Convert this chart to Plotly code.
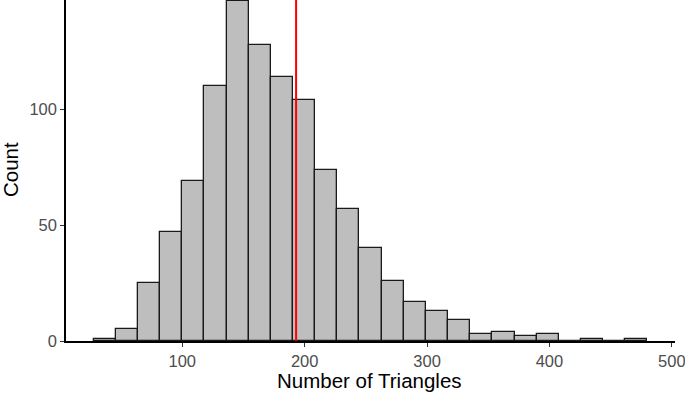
import plotly.graph_objects as go

# Histogram bins (start, width) and counts
bin_start = 27.6
bin_width = 18.1
counts = [1, 5, 25, 47, 69, 110, 147, 128, 114, 104, 74, 57, 40, 26, 17, 13, 9, 3, 4, 2, 3, 0, 1, 0, 1]
ref_value = 193
x_ticks = [100, 200, 300, 400, 500]
y_ticks = [0, 50, 100]

centers = [bin_start + bin_width * (i + 0.5) for i in range(len(counts))]

fig = go.Figure()
fig.add_trace(go.Bar(
    x=centers, y=counts, width=bin_width,
    marker=dict(color="#bebebe", line=dict(color="#1a1a1a", width=1.3)),
    showlegend=False,
))
fig.add_shape(type="line", x0=ref_value, x1=ref_value, y0=0, y1=1, yref="paper",
              line=dict(color="#ff0000", width=2))

W, H = 685, 394
L, R, T, B = 66, 10, 0, 53
pw, ph = W - L - R, H - T - B

def px_to_paper(x, y):
    return (x - L) / pw, (H - B - y) / ph

tx, ty = px_to_paper(369, 381)
cx, cy = px_to_paper(10, 170)

font = "Liberation Sans, Arial, sans-serif"
fig.update_layout(
    width=W, height=H,
    margin=dict(l=L, r=R, t=T, b=B, autoexpand=False),
    plot_bgcolor="white", paper_bgcolor="white",
    bargap=0,
    font=dict(family=font),
    xaxis=dict(range=[5, 502.6], tickvals=x_ticks, showgrid=False, zeroline=False,
               automargin=False, ticklabeloverflow="allow",
               showline=True, linecolor="black", linewidth=1.5,
               ticks="outside", ticklen=4, tickcolor="#333333", tickwidth=1.2,
               tickfont=dict(size=16.5, color="#4d4d4d")),
    yaxis=dict(range=[0, 147.3], tickvals=y_ticks, showgrid=False, zeroline=False,
               automargin=False, ticklabeloverflow="allow",
               showline=True, linecolor="black", linewidth=1.5,
               ticks="outside", ticklen=4, tickcolor="#333333", tickwidth=1.2,
               tickfont=dict(size=16.5, color="#4d4d4d")),
    annotations=[
        dict(text="Number of Triangles", x=tx, y=ty, xref="paper", yref="paper",
             xanchor="center", yanchor="middle",
             showarrow=False, font=dict(size=20.5, color="black")),
        dict(text="Count", x=cx, y=cy, xref="paper", yref="paper", textangle=-90,
             xanchor="center", yanchor="middle",
             showarrow=False, font=dict(size=20.5, color="black")),
    ],
)
fig.write_html("out.html", config={"displayModeBar": False},
               post_script="document.body.style.margin='0';")
